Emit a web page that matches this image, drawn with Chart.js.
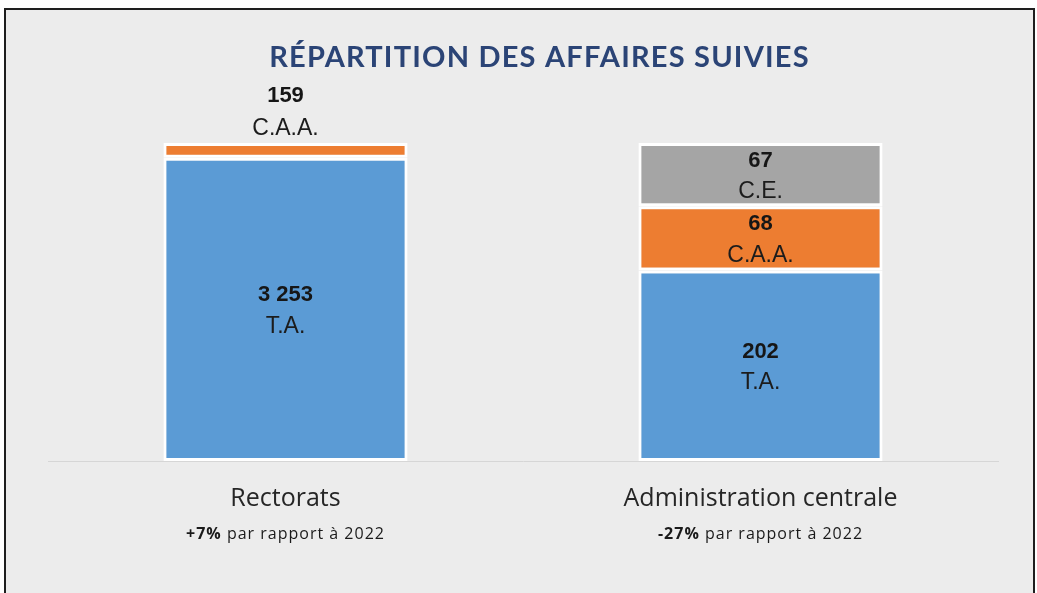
<!DOCTYPE html>
<html>
<head>
<meta charset="utf-8">
<style>
    body {
        margin: 0;
        background: #ffffff;
        font-family: Lato, 'Open Sans', Arial, sans-serif;
    }
    .frame {
        position: absolute;
        left: 4px;
        top: 8px;
        width: 1031px;
        height: 600px;
        box-sizing: border-box;
        border: 2px solid #1e1e1e;
        border-bottom: none;
        background: #ececec;
    }
    #chart {
        position: absolute;
        left: 0;
        top: 0;
    }
</style>
</head>
<body>
<div class="frame"></div>
<canvas id="chart" width="1037" height="593"></canvas>

<script src="https://cdn.jsdelivr.net/npm/chart.js"></script>
<script>
    // données
    const categories = ['Rectorats', 'Administration centrale'];
    const variations = ['+7%', '-27%'];
    const variationSuffix = ' par rapport à 2022';
    const seriesNames = ['T.A.', 'C.A.A.', 'C.E.'];
    const taValues = [3253, 202];
    const caaValues = [159, 68];
    const ceValues = [null, 67];
    const seriesColors = ['#5b9bd5', '#ed7d31', '#a5a5a5'];
    const chartTitle = 'RÉPARTITION DES AFFAIRES SUIVIES';

    const rawSeries = [taValues, caaValues, ceValues];
    const totals = categories.map((c, i) => rawSeries.reduce((s, arr) => s + (arr[i] || 0), 0));

    function fmt(v) {
        return String(v).replace(/\B(?=(\d{3})+(?!\d))/g, ' ');
    }

    const datasets = rawSeries.map((arr, k) => ({
        label: seriesNames[k],
        raw: arr,
        data: arr.map((v, i) => v == null ? null : v / totals[i] * 100),
        backgroundColor: seriesColors[k],
        borderColor: '#ffffff',
        borderWidth: 3,
        borderSkipped: false,
        barPercentage: 0.514,
        categoryPercentage: 1
    }));

    // titre, étiquettes des segments et des catégories
    const labelsPlugin = {
        id: 'labelsPlugin',
        afterDraw(chart) {
            const ctx = chart.ctx;
            const area = chart.chartArea;
            const xScale = chart.scales.x;
            ctx.save();
            ctx.textAlign = 'center';
            ctx.textBaseline = 'middle';

            ctx.fillStyle = '#2b4476';
            ctx.font = 'bold 29px Lato';
            ctx.letterSpacing = '1.2px';
            ctx.fillText(chartTitle, chart.width / 2 + 21, 58);
            ctx.letterSpacing = '0px';

            chart.data.datasets.forEach((ds, k) => {
                const meta = chart.getDatasetMeta(k);
                meta.data.forEach((bar, i) => {
                    const v = ds.raw[i];
                    if (v == null) return;
                    const h = bar.base - bar.y;
                    let yv, yl;
                    if (h < 50) {
                        yv = bar.y - 47;
                        yl = bar.y - 14;
                    } else {
                        const c = (bar.y + bar.base) / 2;
                        yv = c - 14;
                        yl = c + 17;
                    }
                    ctx.fillStyle = '#161616';
                    ctx.font = 'bold 22px Arial';
                    ctx.fillText(fmt(v), bar.x, yv);
                    ctx.fillStyle = '#1c1c1c';
                    ctx.font = '23px Arial';
                    ctx.fillText(ds.label, bar.x, yl);
                });
            });

            categories.forEach((cat, i) => {
                const x = xScale.getPixelForValue(i);
                ctx.textAlign = 'center';
                ctx.fillStyle = '#262626';
                ctx.font = '25px "Open Sans"';
                ctx.fillText(cat, x, area.bottom + 38);

                ctx.letterSpacing = '1px';
                ctx.font = 'bold 16px "Open Sans"';
                const w1 = ctx.measureText(variations[i]).width;
                ctx.font = '16px "Open Sans"';
                const w2 = ctx.measureText(variationSuffix).width;
                const start = x - (w1 + w2) / 2;
                ctx.textAlign = 'left';
                ctx.fillStyle = '#1a1a1a';
                ctx.font = 'bold 16px "Open Sans"';
                ctx.fillText(variations[i], start, area.bottom + 73);
                ctx.font = '16px "Open Sans"';
                ctx.fillText(variationSuffix, start + w1, area.bottom + 73);
                ctx.letterSpacing = '0px';
            });
            ctx.restore();
        }
    };

    new Chart(document.getElementById('chart'), {
        type: 'bar',
        data: {
            labels: categories,
            datasets: datasets
        },
        options: {
            responsive: false,
            animation: false,
            layout: {
                padding: { left: 48, right: 39, top: 143, bottom: 132 }
            },
            plugins: {
                legend: { display: false },
                tooltip: { enabled: false },
                title: { display: false }
            },
            scales: {
                x: {
                    stacked: true,
                    grid: { display: false, drawTicks: false },
                    border: { color: '#d6d6d6', width: 1 },
                    ticks: { display: false }
                },
                y: {
                    stacked: true,
                    display: false,
                    min: 0,
                    max: 100
                }
            }
        },
        plugins: [labelsPlugin]
    });
</script>
</body>
</html>
